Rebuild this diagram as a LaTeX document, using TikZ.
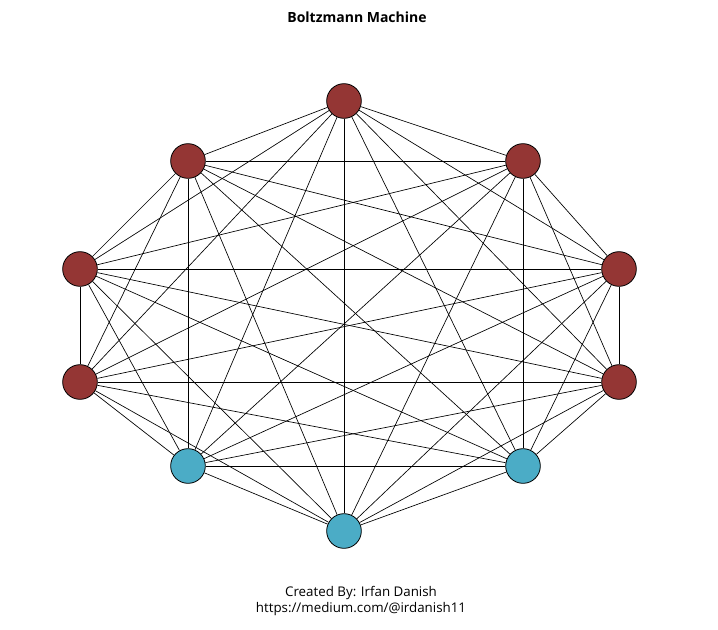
\documentclass[tikz,border=0pt]{standalone}
\usepackage{fontspec}
\setmainfont{Open Sans}
\usetikzlibrary{backgrounds}
\definecolor{redn}{HTML}{943634}
\definecolor{bluen}{HTML}{4BACC6}
\tikzset{unit/.style={circle,draw=black,line width=0.6pt,minimum size=26pt,inner sep=0pt},
 hid/.style={unit,fill=redn}, vis/.style={unit,fill=bluen},
 edge/.style={line width=0.5pt}}
\begin{document}
\begin{tikzpicture}[x=0.75pt,y=-0.75pt]
\useasboundingbox (0,0) rectangle (718,629);
\node[font=\bfseries\fontsize{10.5}{12}\selectfont] (title) at (357,17) {Boltzmann Machine};
\node[hid] (n1) at (344,101) {};
\node[hid] (n2) at (523,161) {};
\node[hid] (n3) at (619,269) {};
\node[hid] (n4) at (619,382) {};
\node[vis] (n5) at (523,466) {};
\node[vis] (n6) at (344,531) {};
\node[vis] (n7) at (188,466) {};
\node[hid] (n8) at (80,382) {};
\node[hid] (n9) at (80,269) {};
\node[hid] (n10) at (188,161) {};
\begin{scope}[on background layer]
\foreach \i in {1,...,9}{
  \pgfmathtruncatemacro{\s}{\i+1}
  \foreach \j in {\s,...,10}{ \draw[edge] (n\i) -- (n\j); }
}
\end{scope}
\node[font=\fontsize{10}{12}\selectfont,align=center] (credit) at (361,601) {Created By: Irfan Danish\\https://medium.com/@irdanish11};
\end{tikzpicture}
\end{document}
